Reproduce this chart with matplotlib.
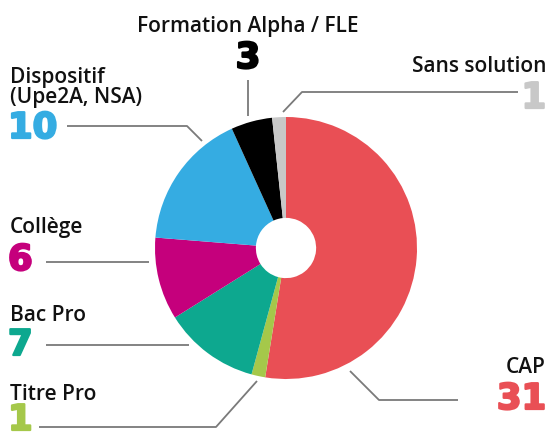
import matplotlib.pyplot as plt
import matplotlib.patheffects as pe

# data
categories = ['CAP', 'Titre Pro', 'Bac Pro', 'Collège', 'Dispositif\n(Upe2A, NSA)',
              'Formation Alpha / FLE', 'Sans solution']
values = [31, 1, 7, 6, 10, 3, 1]
colors = ['#E94F55', '#A5C84A', '#0DA88F', '#C5007C', '#35ACE2', '#000000', '#C8C8C8']

LABEL_FONT = 'Open Sans'
NUM_FONT = 'DejaVu Sans'
LINE_COL = '#7a7a7a'

fig = plt.figure(figsize=(5.48, 4.36), dpi=100)
ax = fig.add_axes([0, 0, 1, 1])

# pixel-like coordinates (y goes down) -> clockwise on screen = counterclock in data
cx, cy, r = 286, 248, 131
ax.pie(values, colors=colors, startangle=-90, counterclock=True,
       center=(cx, cy), radius=r,
       wedgeprops=dict(width=r * 0.77, linewidth=0))
ax.set_xlim(0, 548)
ax.set_ylim(436, 0)
ax.set_aspect('equal')
ax.axis('off')


def label(x, y, name, ha='left'):
    # each line placed on its own baseline (tight leading)
    for i, line in enumerate(name.split('\n')):
        ax.text(x, y + i * 20, line, fontsize=15, family=LABEL_FONT, fontweight=600,
                color='#111111', ha=ha, va='baseline')


def number(x, y, num, col, ha='left'):
    ax.text(x, y, str(num), fontsize=25.5, family=NUM_FONT, fontweight='heavy',
            color=col, ha=ha, va='baseline',
            path_effects=[pe.withStroke(linewidth=1.6, foreground=col)])


def leader(xs, ys):
    ax.plot(xs, ys, color=LINE_COL, lw=1.3, solid_capstyle='butt')


# CAP
label(546, 373, categories[0], ha='right')
number(546, 409, values[0], colors[0], ha='right')
leader([350, 379, 458], [371, 400, 400])

# Titre Pro
label(10, 400, categories[1])
number(8, 430, values[1], colors[1])
leader([39, 216, 257], [427, 427, 381])

# Bac Pro
label(10, 321, categories[2])
number(8, 355, values[2], colors[2])
leader([46, 189], [345, 345])

# College
label(10, 233, categories[3])
number(8, 270, values[3], colors[3])
leader([46, 149], [262, 262])

# Dispositif
label(10, 83, categories[4])
number(8, 138, values[4], colors[4])
leader([67, 187, 202], [126, 126, 141])

# Formation Alpha
label(248, 32, categories[5], ha='center')
number(248, 68, values[5], colors[5], ha='center')
leader([248, 248], [80, 116])

# Sans solution
label(546, 72, categories[6], ha='right')
number(546, 108, values[6], colors[6], ha='right')
leader([283, 302, 518], [112, 92, 92])

fig.savefig('out.png', dpi=100)
